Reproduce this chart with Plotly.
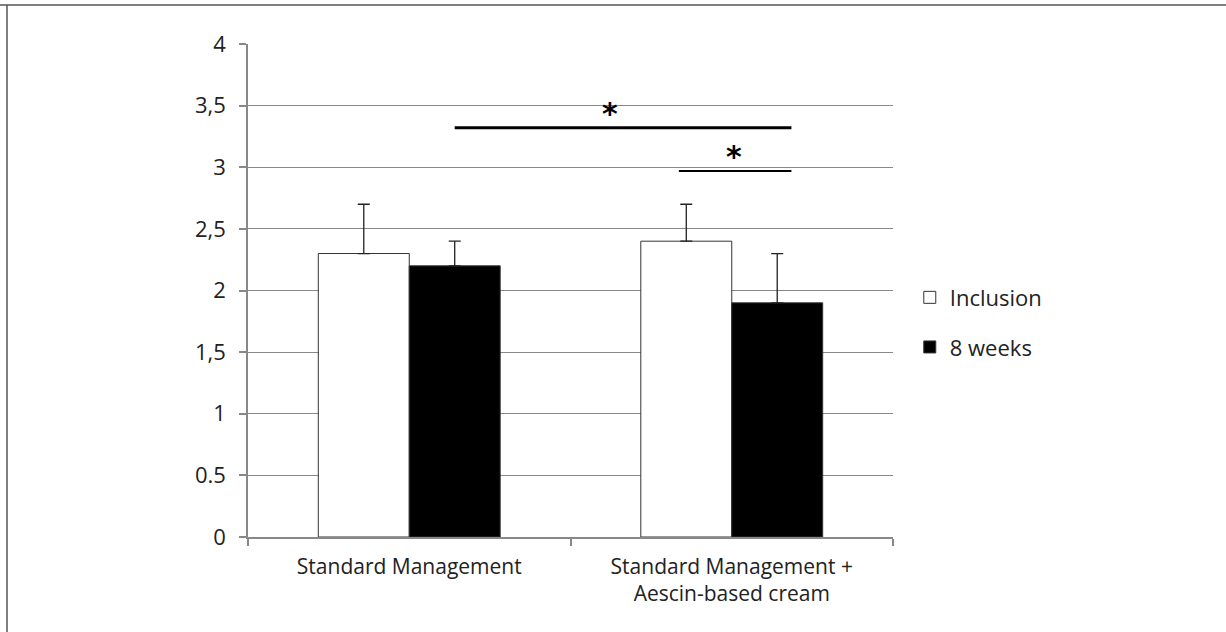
import plotly.graph_objects as go

categories = ["Standard Management", "Standard Management +<br>Aescin-based cream"]
inclusion = [2.3, 2.4]
inclusion_err = [0.4, 0.3]
weeks8 = [2.2, 1.9]
weeks8_err = [0.2, 0.4]
tick_vals = [0, 0.5, 1, 1.5, 2, 2.5, 3, 3.5, 4]
tick_text = ["0", "0.5", "1", "1,5", "2", "2,5", "3", "3,5", "4"]

# significance brackets: (x start, x end, y level) in category-index units
sig_long = (0.141, 1.185, 3.32)
sig_short = (0.836, 1.185, 2.97)

FONT = "Open Sans, Lato, sans-serif"

fig = go.Figure()
fig.add_trace(go.Bar(
    name="Inclusion", x=categories, y=inclusion,
    marker=dict(color="white", line=dict(color="#333", width=1)),
    error_y=dict(type="data", array=inclusion_err, arrayminus=[0, 0], symmetric=False,
                 color="#222", thickness=1.3, width=6),
    legendgroup="a",
))
fig.add_trace(go.Bar(
    name="8 weeks", x=categories, y=weeks8,
    marker=dict(color="black", line=dict(color="#333", width=1)),
    error_y=dict(type="data", array=weeks8_err, arrayminus=[0, 0], symmetric=False,
                 color="#222", thickness=1.3, width=6),
    legendgroup="b",
))

L, R, T, B = 248, 333, 44, 95
W, H = 1226, 632
pw, ph = W - L - R, H - T - B

def px2paper(px, py):
    return (px - L) / pw, (H - B - py) / ph

shapes = []
for (x0, x1, y), w in ((sig_long, 3), (sig_short, 2)):
    shapes.append(dict(type="line", xref="x", yref="y", x0=x0, x1=x1, y0=y, y1=y,
                       line=dict(color="black", width=w)))
# outer frame lines (top and left)
xa, ya = px2paper(0, 5)
xb, _ = px2paper(W, 5)
shapes.append(dict(type="line", xref="paper", yref="paper", x0=xa, x1=xb, y0=ya, y1=ya,
                   line=dict(color="#555", width=1.5)))
xl, yt = px2paper(7, 5)
_, yb = px2paper(7, H)
shapes.append(dict(type="line", xref="paper", yref="paper", x0=xl, x1=xl, y0=yt, y1=yb,
                   line=dict(color="#555", width=1.5)))

annotations = [
    dict(x=(sig_long[0] + sig_long[1]) / 2 - 0.04, y=sig_long[2] + 0.12, xref="x", yref="y",
         text="<b>*</b>", showarrow=False, font=dict(size=30, color="black", family="DejaVu Sans")),
    dict(x=(sig_short[0] + sig_short[1]) / 2 - 0.004, y=sig_short[2] + 0.12, xref="x", yref="y",
         text="<b>*</b>", showarrow=False, font=dict(size=30, color="black", family="DejaVu Sans")),
]

fig.update_layout(
    width=W, height=H,
    margin=dict(l=L, r=R, t=T, b=B, autoexpand=False),
    paper_bgcolor="white", plot_bgcolor="white",
    barmode="group", bargap=0.436, bargroupgap=0,
    font=dict(family=FONT, size=19, color="#222"),
    shapes=shapes, annotations=annotations,
    legend=dict(x=1.026, y=0.435, xanchor="left", yanchor="middle",
                font=dict(size=22, color="#222", family=FONT),
                traceorder="grouped", tracegroupgap=18,
                itemwidth=30, bgcolor="rgba(0,0,0,0)"),
    showlegend=True,
)
fig.update_xaxes(
    showline=True, linecolor="#888", linewidth=1.5,
    ticks="outside", tickson="boundaries", ticklen=7, tickcolor="#888", tickwidth=1.5,
    showgrid=False, tickfont=dict(size=21, color="#222"), ticklabelstandoff=10,
)
fig.update_yaxes(
    range=[0, 4], tickvals=tick_vals, ticktext=tick_text,
    showline=True, linecolor="#888", linewidth=1.5,
    ticks="outside", ticklen=7, tickcolor="#888", tickwidth=1.5,
    showgrid=True, gridcolor="#888", gridwidth=1.3, zeroline=False,
    tickfont=dict(size=22, color="#222"), ticklabelstandoff=9,
)

fig.write_html("out.html", config={"displayModeBar": False},
               post_script="document.body.style.margin='0';")
